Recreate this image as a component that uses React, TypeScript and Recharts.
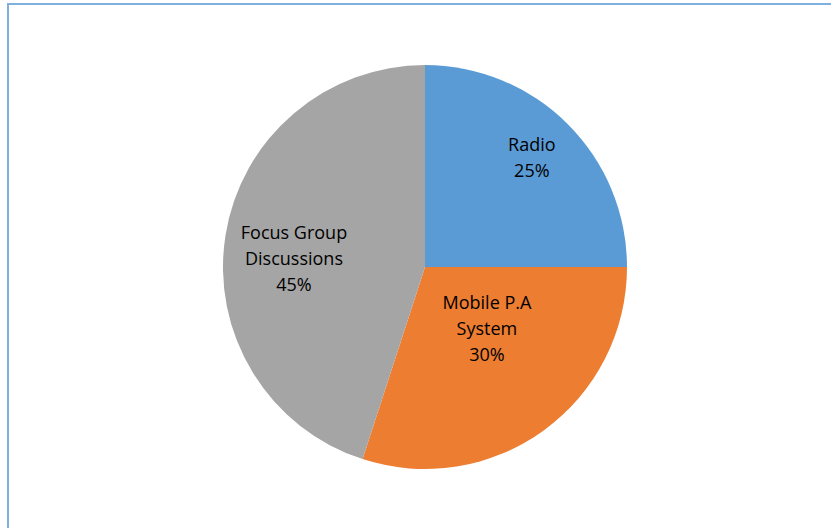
import React from "react";
import { PieChart, Pie, Cell } from "recharts";

// Channel shares
const categories = ["Radio", "Mobile P.A System", "Focus Group Discussions"];
const labelLines = [["Radio"], ["Mobile P.A", "System"], ["Focus Group", "Discussions"]];
const values = [25, 30, 45];
const colors = ["#5B9BD5", "#ED7D31", "#A5A5A5"];

const data = categories.map((name, i) => ({ name, value: values[i] }));

// label placement like Excel's best fit: radius ratio and angle nudge per slice
const labelRadius = [0.76, 0.43, 0.65];
const labelNudge = [0.9, 9.5, 5.1];

const RADIAN = Math.PI / 180;

const renderLabel = (props: any) => {
  const { cx, cy, midAngle, outerRadius, index, percent } = props;
  const r = outerRadius * labelRadius[index];
  const a = (midAngle + labelNudge[index]) * RADIAN;
  const x = cx + r * Math.cos(a);
  const y = cy - r * Math.sin(a);
  const lines = [...labelLines[index], `${Math.round(percent * 100)}%`];
  const lh = 26;
  const top = y - ((lines.length - 1) * lh) / 2;
  return (
    <text
      x={x}
      y={top}
      textAnchor="middle"
      dominantBaseline="central"
      fill="#000"
      fontSize={18}
      fontFamily="'Open Sans', sans-serif"
    >
      {lines.map((t, i) => (
        <tspan key={i} x={x} y={top + i * lh}>
          {t}
        </tspan>
      ))}
    </text>
  );
};

const App = () => {
  return (
    <div
      style={{
        position: "absolute",
        left: 0,
        top: 0,
        width: 831,
        height: 528,
        overflow: "hidden",
        background: "#fff",
      }}
    >
      <div
        style={{
          position: "absolute",
          left: 7,
          top: 3,
          width: 900,
          height: 600,
          borderLeft: "2px solid #7fb0de",
          borderTop: "2px solid #7fb0de",
        }}
      />
      <div style={{ position: "absolute", left: 0, top: 0 }}>
        {/* recharts adds its 5px margin to numeric cx/cy */}
        <PieChart width={831} height={528}>
          <Pie
            data={data}
            dataKey="value"
            nameKey="name"
            cx={420}
            cy={262}
            outerRadius={202}
            startAngle={90}
            endAngle={-270}
            stroke="none"
            labelLine={false}
            label={renderLabel}
            isAnimationActive={false}
          >
            {data.map((d, i) => (
              <Cell key={d.name} fill={colors[i]} />
            ))}
          </Pie>
        </PieChart>
      </div>
    </div>
  );
};

export default App;
